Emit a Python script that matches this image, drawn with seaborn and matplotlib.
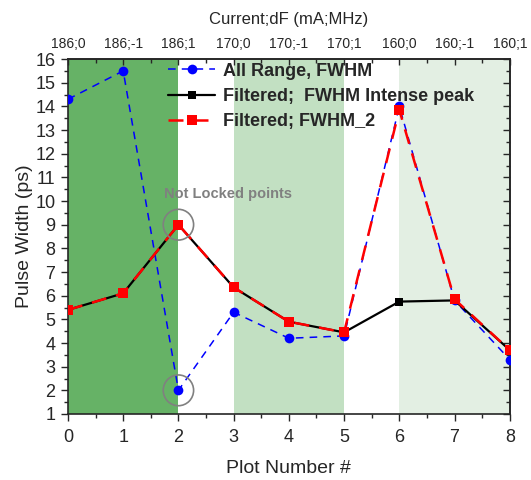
import numpy as np
import pandas as pd
import matplotlib
matplotlib.use("Agg")
import matplotlib.pyplot as plt
from matplotlib.patches import Ellipse
import seaborn as sns

# data
plot_num = [0, 1, 2, 3, 4, 5, 6, 7, 8]
all_range = [14.3, 15.5, 2.0, 5.3, 4.2, 4.3, 14.0, 5.8, 3.3]
filt_intense = [5.4, 6.1, 9.0, 6.35, 4.9, 4.45, 5.75, 5.8, 3.7]
filt_fwhm2 = [5.4, 6.1, 9.0, 6.35, 4.9, 4.45, 13.85, 5.85, 3.7]
top_labels = ["186;0", "186;-1", "186;1", "170;0", "170;-1", "170;1", "160;0", "160;-1", "160;1"]

sns.set_style("ticks")
plt.rcParams['font.family'] = ['Liberation Sans', 'DejaVu Sans']

fig = plt.figure(figsize=(5.31, 4.8), dpi=100)
ax = fig.add_axes([0.128, 0.1375, 0.832, 0.7395])

# shaded current groups
ax.axvspan(0, 2, color="#66b266", lw=0, zorder=0)
ax.axvspan(3, 5, color="#c2e0c2", lw=0, zorder=0)
ax.axvspan(6, 8, color="#e3efe3", lw=0, zorder=0)

df = pd.DataFrame({"x": plot_num, "a": all_range, "b": filt_intense, "c": filt_fwhm2})

sns.lineplot(data=df, x="x", y="a", ax=ax, color="#0000ff", lw=1.1, ls=(0, (5, 4)),
             marker="o", markersize=7, markeredgewidth=0, label="All Range, FWHM", zorder=3)
sns.lineplot(data=df, x="x", y="b", ax=ax, color="black", lw=1.6,
             marker="s", markersize=6, markeredgewidth=0, label="Filtered;  FWHM Intense peak", zorder=4)
sns.lineplot(data=df, x="x", y="c", ax=ax, color="#ff0000", lw=1.8, ls=(0, (6, 4)),
             marker="s", markersize=7, markeredgewidth=0, label="Filtered; FWHM_2", zorder=5)

# not locked markers
for yy in [9.0, 2.0]:
    ax.add_patch(Ellipse((2, yy), 0.55, 1.3, fill=False, ec="#808080", lw=1.2, zorder=6))
ax.text(2.9, 10.3, "Not Locked points", color="#808080", fontsize=10.5, fontweight="bold",
        ha="center", va="center", zorder=6)

ax.set_xlim(0, 8)
ax.set_ylim(1, 16)
ax.set_xticks(range(0, 9))
ax.set_xticks(np.arange(0.5, 8, 1), minor=True)
ax.set_yticks(range(1, 17))
ax.set_yticks(np.arange(1.5, 16, 1), minor=True)
ax.tick_params(axis="both", which="both", direction="out", width=1)
ax.tick_params(axis="both", which="major", labelsize=13, length=5, pad=6)
ax.tick_params(which="minor", length=3)
ax.tick_params(axis="y", which="major", pad=4)
ax.set_xlabel("Plot Number #", fontsize=14, labelpad=10)
ax.set_ylabel("Pulse Width (ps)", fontsize=14, labelpad=2)
for s in ax.spines.values():
    s.set_linewidth(1.2)

# right axis: inward ticks, no labels
right = ax.secondary_yaxis("right")
right.set_yticks(range(1, 17))
right.set_yticks(np.arange(1.5, 16, 1), minor=True)
right.tick_params(which="both", direction="in", labelright=False, width=1)
right.tick_params(which="major", length=5)
right.tick_params(which="minor", length=3)
right.spines["right"].set_linewidth(1.2)

# top axis: current;dF labels, inward ticks
top = ax.secondary_xaxis("top")
top.set_xticks(range(0, 9))
top.set_xticks(np.arange(0.5, 8, 1), minor=True)
top.set_xticklabels(top_labels)
top.tick_params(which="both", direction="in", width=1, labelsize=10, pad=6)
top.tick_params(which="major", length=4)
top.tick_params(which="minor", length=3)
top.spines["top"].set_linewidth(1.2)
top.set_xlabel("Current;dF (mA;MHz)", fontsize=12, labelpad=9)

leg = ax.legend(loc="upper left", bbox_to_anchor=(0.203, 1.02), frameon=False,
                prop={"weight": "bold", "size": 13}, handlelength=2.6,
                borderaxespad=0.2, labelspacing=0.45, handletextpad=0.4)

fig.savefig("out.png", dpi=100)
